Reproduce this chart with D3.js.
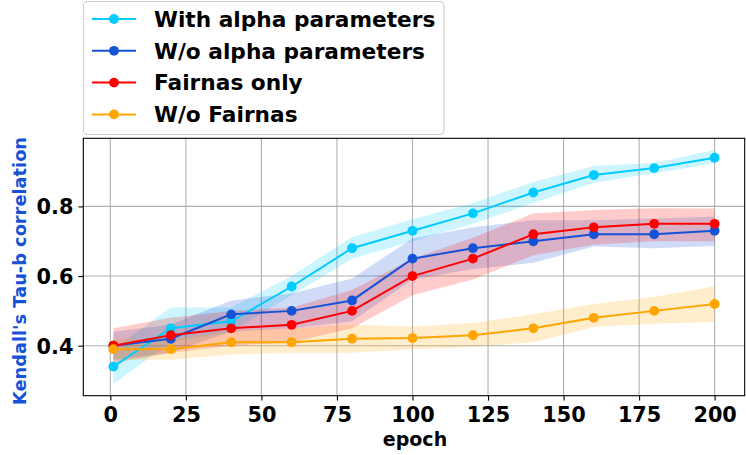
<!DOCTYPE html>
<html>
<head>
<meta charset="utf-8">
<script src="https://cdn.jsdelivr.net/npm/d3@7/dist/d3.min.js"></script>
<style>
  html, body { margin: 0; padding: 0; background: #fff; }
  svg { display: block; font-family: "DejaVu Sans", sans-serif; font-weight: bold; }
</style>
</head>
<body>
<svg id="chart" width="746" height="455"></svg>
<script>
// Training epochs at which the rank correlation was evaluated
const epochs = [1, 20, 40, 60, 80, 100, 120, 140, 160, 180, 200];

// Mean Kendall's Tau-b and the shaded spread (lower / upper) per setting
const withAlpha      = [0.34, 0.45, 0.47, 0.57, 0.68, 0.73, 0.78, 0.84, 0.89, 0.91, 0.94];
const withAlphaLow   = [0.29, 0.41, 0.44, 0.545, 0.65, 0.70, 0.75, 0.81, 0.868, 0.895, 0.924];
const withAlphaHigh  = [0.39, 0.51, 0.51, 0.60, 0.712, 0.763, 0.81, 0.87, 0.916, 0.925, 0.962];

const noAlpha        = [0.40, 0.42, 0.49, 0.50, 0.53, 0.65, 0.68, 0.70, 0.72, 0.72, 0.73];
const noAlphaLow     = [0.36, 0.38, 0.44, 0.45, 0.47, 0.59, 0.62, 0.638, 0.685, 0.68, 0.686];
const noAlphaHigh    = [0.44, 0.46, 0.53, 0.55, 0.593, 0.708, 0.74, 0.76, 0.76, 0.765, 0.77];

const fairOnly       = [0.40, 0.43, 0.45, 0.46, 0.50, 0.60, 0.65, 0.72, 0.74, 0.75, 0.75];
const fairOnlyLow    = [0.35, 0.38, 0.40, 0.41, 0.45, 0.545, 0.59, 0.66, 0.69, 0.70, 0.70];
const fairOnlyHigh   = [0.45, 0.48, 0.50, 0.51, 0.56, 0.65, 0.71, 0.78, 0.79, 0.795, 0.794];

const noFair         = [0.39, 0.39, 0.41, 0.41, 0.42, 0.422, 0.43, 0.45, 0.48, 0.50, 0.52];
const noFairLow      = [0.36, 0.36, 0.375, 0.38, 0.38, 0.39, 0.396, 0.41, 0.454, 0.463, 0.468];
const noFairHigh     = [0.42, 0.42, 0.445, 0.45, 0.46, 0.455, 0.465, 0.49, 0.52, 0.54, 0.571];

const seriesNames  = ["With alpha parameters", "W/o alpha parameters", "Fairnas only", "W/o Fairnas"];
const seriesColors = ["#00ccff", "#1652d6", "#ff0000", "#ffa500"];

const xTicks = [0, 25, 50, 75, 100, 125, 150, 175, 200];
const yTicks = [0.4, 0.6, 0.8];
const xLabel = "epoch";
const yLabel = "Kendall's Tau-b correlation";

const series = [
  { mean: withAlpha, low: withAlphaLow, high: withAlphaHigh },
  { mean: noAlpha,   low: noAlphaLow,   high: noAlphaHigh },
  { mean: fairOnly,  low: fairOnlyLow,  high: fairOnlyHigh },
  { mean: noFair,    low: noFairLow,    high: noFairHigh }
].map((s, i) => ({ ...s, name: seriesNames[i], color: seriesColors[i] }));

// Plot frame
const plotLeft = 83.3, plotRight = 744.7, plotTop = 138.3, plotBottom = 395.7;

// 5% padding around the data extent on both axes
function padded(lo, hi) { const m = (hi - lo) * 0.05; return [lo - m, hi + m]; }
const xExt = padded(d3.min(epochs), d3.max(epochs));
const yExt = padded(
  d3.min(series, s => d3.min(s.low)),
  d3.max(series, s => d3.max(s.high))
);

const x = d3.scaleLinear().domain(xExt).range([plotLeft, plotRight]);
const y = d3.scaleLinear().domain(yExt).range([plotBottom, plotTop]);

const svg = d3.select("#chart");

// Grid
const grid = svg.append("g").attr("stroke", "#b0b0b0").attr("stroke-width", 1.1);
grid.selectAll("line.vx").data(xTicks).join("line")
  .attr("x1", d => x(d)).attr("x2", d => x(d))
  .attr("y1", plotTop).attr("y2", plotBottom);
grid.selectAll("line.hy").data(yTicks).join("line")
  .attr("x1", plotLeft).attr("x2", plotRight)
  .attr("y1", d => y(d)).attr("y2", d => y(d));

// Shaded spread bands (beneath all lines)
const area = d3.area()
  .x((d, i) => x(epochs[i]))
  .y0(d => y(d[0]))
  .y1(d => y(d[1]));
svg.append("g").selectAll("path").data(series).join("path")
  .attr("d", s => area(s.low.map((v, i) => [v, s.high[i]])))
  .attr("fill", s => s.color)
  .attr("fill-opacity", 0.2);

// Mean lines with round markers
const line = d3.line().x((d, i) => x(epochs[i])).y(d => y(d));
series.forEach(s => {
  const g = svg.append("g");
  g.append("path")
    .attr("d", line(s.mean))
    .attr("fill", "none")
    .attr("stroke", s.color)
    .attr("stroke-width", 2);
  g.selectAll("circle").data(s.mean).join("circle")
    .attr("cx", (d, i) => x(epochs[i]))
    .attr("cy", d => y(d))
    .attr("r", 4.9)
    .attr("fill", s.color);
});

// Axes
const xAxis = d3.axisBottom(x).tickValues(xTicks).tickSize(4.9).tickPadding(6).tickFormat(d3.format("d"));
const yAxis = d3.axisLeft(y).tickValues(yTicks).tickSize(4.9).tickPadding(5).tickFormat(d3.format(".1f"));

const gx = svg.append("g").attr("transform", `translate(0,${plotBottom})`).call(xAxis);
const gy = svg.append("g").attr("transform", `translate(${plotLeft},0)`).call(yAxis);
[gx, gy].forEach(g => {
  g.select(".domain").remove();
  g.selectAll(".tick line").attr("stroke", "#000").attr("stroke-width", 1.1);
  g.selectAll(".tick text")
    .attr("fill", "#000")
    .attr("font-size", 20.8)
    .attr("font-weight", "bold")
    .attr("font-family", "DejaVu Sans");
});
gx.selectAll(".tick text").attr("dy", null).attr("y", 26);
gy.selectAll(".tick text").attr("dy", "0.36em");

// Frame
svg.append("rect")
  .attr("x", plotLeft).attr("y", plotTop)
  .attr("width", plotRight - plotLeft).attr("height", plotBottom - plotTop)
  .attr("fill", "none").attr("stroke", "#000").attr("stroke-width", 1.1);

// Axis titles
svg.append("text")
  .attr("x", (plotLeft + plotRight) / 2 + 1).attr("y", 446)
  .attr("text-anchor", "middle")
  .attr("font-size", 19)
  .attr("fill", "#000")
  .text(xLabel);

svg.append("text")
  .attr("transform", `translate(26,${(plotTop + plotBottom) / 2 + 4}) rotate(-90)`)
  .attr("text-anchor", "middle")
  .attr("font-size", 17.8)
  .attr("fill", "#1652d6")
  .text(yLabel);

// Legend
const legend = svg.append("g");
legend.append("rect")
  .attr("x", 83.5).attr("y", 1.5)
  .attr("width", 360.5).attr("height", 133)
  .attr("rx", 4)
  .attr("fill", "#fff").attr("fill-opacity", 0.8)
  .attr("stroke", "#cccccc").attr("stroke-width", 1.1);
const rows = legend.selectAll("g.row").data(series).join("g")
  .attr("transform", (d, i) => `translate(0,${19 + i * 31.8})`);
rows.append("line")
  .attr("x1", 92).attr("x2", 136).attr("y1", 0).attr("y2", 0)
  .attr("stroke", d => d.color).attr("stroke-width", 2);
rows.append("circle")
  .attr("cx", 114).attr("cy", 0).attr("r", 4.9)
  .attr("fill", d => d.color);
rows.append("text")
  .attr("x", 154).attr("y", 0).attr("dy", "0.36em")
  .attr("font-size", 21.7)
  .attr("fill", "#000")
  .text(d => d.name);
</script>
</body>
</html>
